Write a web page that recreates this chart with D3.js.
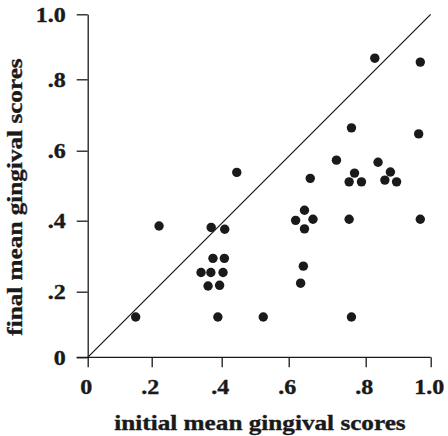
<!DOCTYPE html>
<html><head><meta charset="utf-8">
<script src="https://cdn.jsdelivr.net/npm/d3@7"></script>
<style>body{margin:0;background:#fff}svg{display:block}text{font-family:"Liberation Serif","Times New Roman",serif;font-weight:bold;fill:#1a1a1a;stroke:#1a1a1a;stroke-width:0.35px}</style>
</head><body>
<script>
const tickValues = [0, 0.2, 0.4, 0.6, 0.8, 1.0];
const tickLabels = ["0", ".2", ".4", ".6", ".8", "1.0"];
const initialScores = [0.445,0.828,0.968,0.763,0.963,0.724,0.838,0.656,0.771,0.757,0.789,0.876,0.859,0.895,
  0.221,0.370,0.409,0.375,0.408,0.341,0.369,0.404,0.361,0.394,0.150,0.389,0.524,
  0.641,0.618,0.663,0.641,0.757,0.968,0.638,0.631,0.763];
const finalScores = [0.538,0.865,0.853,0.664,0.647,0.573,0.567,0.521,0.536,0.511,0.511,0.539,0.516,0.511,
  0.385,0.381,0.376,0.294,0.294,0.254,0.254,0.254,0.216,0.218,0.123,0.123,0.123,
  0.430,0.401,0.404,0.377,0.404,0.404,0.272,0.224,0.123];
const xTitle = "initial mean gingival scores";
const yTitle = "final mean gingival scores";

const W = 448, H = 436;
const svg = d3.select("body").append("svg").attr("width", W).attr("height", H);
const x = d3.scaleLinear().domain(tickValues).range([87.7,151.7,221.7,288.7,365.7,430.7]);
const y = d3.scaleLinear().domain(tickValues).range([357.3,291.7,220.7,150.7,79.3,14.3]);
const ink = "#1a1a1a";
const stretch = 1.2;

// axes
const xAxis = d3.axisBottom(x).tickValues(tickValues).tickFormat((d,i)=>tickLabels[i]).tickSize(10).tickSizeOuter(0);
const yAxis = d3.axisLeft(y).tickValues(tickValues).tickFormat((d,i)=>tickLabels[i]).tickSize(11).tickSizeOuter(0);
const gx = svg.append("g").attr("transform", `translate(0,${y(0)})`).call(xAxis);
const gy = svg.append("g").attr("transform", `translate(${x(0)},0)`).call(yAxis);
[gx, gy].forEach(g => {
  g.select(".domain").attr("stroke", ink).attr("stroke-width", 1.3);
  g.selectAll(".tick line").attr("stroke", ink).attr("stroke-width", 1.3);
  g.selectAll(".tick text").attr("font-size", 20).attr("font-family", "Liberation Serif")
    .attr("font-weight", "bold").attr("fill", ink);
});
gx.select(".domain").attr("d", `M${x(0)-11},0H${x(1)}`);
gx.selectAll(".tick text").attr("x", null).attr("y", null).attr("dy", null)
  .attr("transform", `translate(-2,37) scale(${stretch},1)`);
gy.selectAll(".tick text").attr("x", null).attr("dy", "0.34em")
  .attr("transform", `translate(-22,0) scale(${stretch},1)`);

// diagonal
svg.append("line").attr("x1", x(0)).attr("y1", y(0)).attr("x2", x(1)).attr("y2", y(1))
  .attr("stroke", ink).attr("stroke-width", 1.2);

// points
svg.append("g").selectAll("circle").data(initialScores).join("circle")
  .attr("cx", (d)=>x(d)).attr("cy", (d,i)=>y(finalScores[i])).attr("r", 4.7).attr("fill", ink);

// titles
svg.append("text").attr("transform", `translate(260,429.5) scale(${stretch},1)`)
  .attr("text-anchor", "middle").attr("font-size", 21).text(xTitle);
svg.append("text").attr("transform", `translate(21.5,197) rotate(-90) scale(${stretch},1)`)
  .attr("text-anchor", "middle").attr("font-size", 21).text(yTitle);
</script>
</body></html>
